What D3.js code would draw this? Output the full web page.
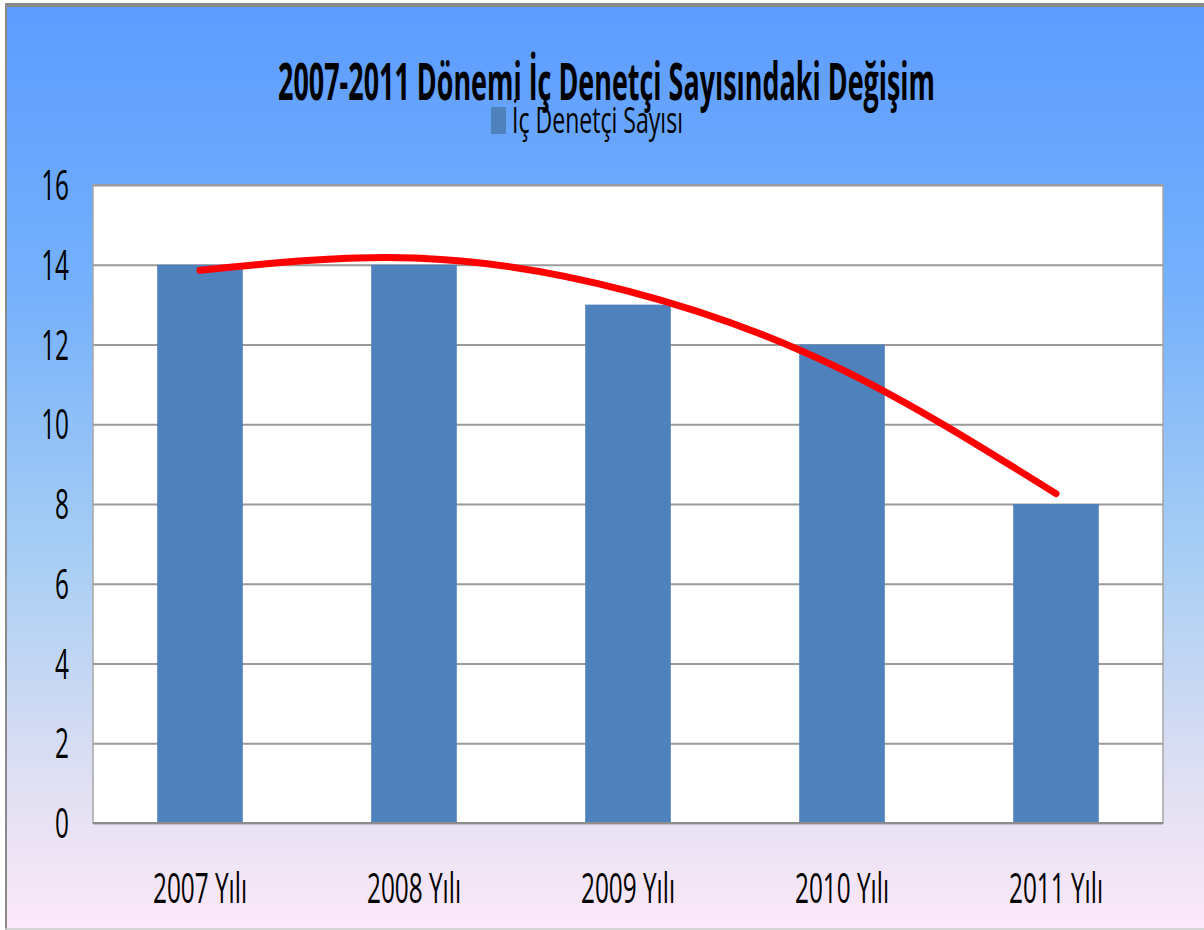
<!DOCTYPE html>
<html>
<head>
<meta charset="utf-8">
<script src="https://cdn.jsdelivr.net/npm/d3@7"></script>
<style>
  body { margin: 0; background: #fff; }
  svg text { font-family: "Open Sans", "Liberation Sans", sans-serif; fill: #000; }
</style>
</head>
<body>
<div id="chart"></div>
<script>
// chart data
const years = ['2007 Yılı', '2008 Yılı', '2009 Yılı', '2010 Yılı', '2011 Yılı']
const denetciSayisi = [14, 14, 13, 12, 8]
// red trend line
const trendValues = [13.86, 14.17, 13.34, 11.37, 8.26]
const yTicks = [0, 2, 4, 6, 8, 10, 12, 14, 16]
const title = '2007-2011 Dönemi İç Denetçi Sayısındaki Değişim'
const legendLabel = 'İç Denetçi Sayısı'

const width = 1204, height = 930
const plot = { left: 93, right: 1163, top: 185, bottom: 823 }
const squeeze = 0.58 // text in the picture is squashed sideways

const svg = d3.select('#chart').append('svg')
  .attr('width', width)
  .attr('height', height)

// background gradient
const grad = svg.append('defs').append('linearGradient')
  .attr('id', 'bg').attr('x1', 0).attr('y1', 0).attr('x2', 0).attr('y2', 1)
grad.append('stop').attr('offset', '0%').attr('stop-color', '#5c9cff')
grad.append('stop').attr('offset', '30%').attr('stop-color', '#74b0fc')
grad.append('stop').attr('offset', '60%').attr('stop-color', '#a8cef4')
grad.append('stop').attr('offset', '85%').attr('stop-color', '#e2e0f3')
grad.append('stop').attr('offset', '100%').attr('stop-color', '#fce8f8')

svg.append('rect')
  .attr('x', 6).attr('y', 5)
  .attr('width', width - 6).attr('height', height - 6)
  .attr('fill', 'url(#bg)')

// frame lines
svg.append('line').attr('x1', 5).attr('x2', width).attr('y1', 5).attr('y2', 5)
  .attr('stroke', '#8a8a8a').attr('stroke-width', 4)
svg.append('line').attr('x1', 6).attr('x2', 6).attr('y1', 3).attr('y2', height)
  .attr('stroke', '#8a8a8a').attr('stroke-width', 2)
svg.append('line').attr('x1', 5).attr('x2', width).attr('y1', 929).attr('y2', 929)
  .attr('stroke', '#c8c8c8').attr('stroke-width', 1.5)

// scales
const xScale = d3.scaleBand()
  .domain(years)
  .range([plot.left, plot.right])
  .paddingInner(0.6)
  .paddingOuter(0.3)

const yScale = d3.scaleLinear()
  .domain([0, 16])
  .range([plot.bottom, plot.top])

// plot area
svg.append('rect')
  .attr('x', plot.left).attr('y', plot.top)
  .attr('width', plot.right - plot.left).attr('height', plot.bottom - plot.top)
  .attr('fill', '#fff')
  .attr('stroke', '#a6a6a6').attr('stroke-width', 1.5)

// grid
const yGrid = d3.axisLeft(yScale).tickValues(yTicks)
  .tickSize(-(plot.right - plot.left)).tickFormat('')
const gridG = svg.append('g')
  .attr('transform', `translate(${plot.left},0)`)
  .call(yGrid)
gridG.select('.domain').remove()
gridG.selectAll('line').attr('stroke', '#9a9a9a').attr('stroke-width', 2)

// bars
svg.selectAll('rect.bar')
  .data(denetciSayisi)
  .enter()
  .append('rect')
  .attr('class', 'bar')
  .attr('x', (d, i) => xScale(years[i]))
  .attr('y', d => yScale(d))
  .attr('width', xScale.bandwidth())
  .attr('height', d => yScale(0) - yScale(d))
  .attr('fill', '#4f81bd')

// bottom axis line
svg.append('line')
  .attr('x1', plot.left).attr('x2', plot.right)
  .attr('y1', yScale(0)).attr('y2', yScale(0))
  .attr('stroke', '#8c8c8c').attr('stroke-width', 2)

// trend line
const trendLine = d3.line()
  .x((d, i) => xScale(years[i]) + xScale.bandwidth() / 2)
  .y(d => yScale(d))
  .curve(d3.curveNatural)

svg.append('path')
  .datum(trendValues)
  .attr('d', trendLine)
  .attr('fill', 'none')
  .attr('stroke', '#ff0000')
  .attr('stroke-width', 7)
  .attr('stroke-linecap', 'round')

// helper for the squashed text
function squashedText(x, y, txt, size, anchor, weight) {
  return svg.append('text')
    .attr('transform', `translate(${x},${y}) scale(${squeeze},1)`)
    .attr('text-anchor', anchor)
    .attr('font-size', size)
    .attr('font-weight', weight || 'normal')
    .text(txt)
}

// y labels
yTicks.forEach(t => {
  squashedText(69, yScale(t) + 15, t, 42, 'end')
})

// x labels
years.forEach(y => {
  squashedText(xScale(y) + xScale.bandwidth() / 2, 903, y, 42, 'middle')
})

// title
svg.append('text')
  .attr('x', 278).attr('y', 100)
  .attr('font-size', 52)
  .attr('font-weight', 'bold')
  .attr('textLength', 657)
  .attr('lengthAdjust', 'spacingAndGlyphs')
  .text(title)

// legend
svg.append('rect')
  .attr('x', 491).attr('y', 107)
  .attr('width', 15).attr('height', 27)
  .attr('fill', '#4f81bd')
svg.append('text')
  .attr('x', 512).attr('y', 133)
  .attr('font-size', 36)
  .attr('textLength', 171)
  .attr('lengthAdjust', 'spacingAndGlyphs')
  .text(legendLabel)
</script>
</body>
</html>
